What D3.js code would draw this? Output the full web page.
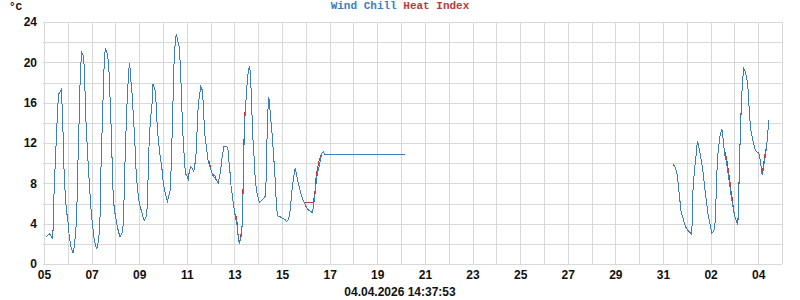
<!DOCTYPE html>
<html>
<head>
<meta charset="utf-8">
<script src="https://cdn.jsdelivr.net/npm/d3@7"></script>
<style>
  body { margin: 0; background: #fff; }
  svg { display: block; }
  .tick-label { font-family: "Liberation Sans Narrow", "Liberation Sans", sans-serif; font-weight: bold; font-size: 12px; fill: #111; }
  .title { font-family: "Liberation Mono", "DejaVu Sans Mono", monospace; font-weight: bold; font-size: 11px; }
</style>
</head>
<body>
<svg id="chart" width="800" height="300"></svg>
<script>
// hours since 05.03.2026 00:00, null value = gap in the record
const hours = [
  2.0, 5.3, 7.1, 8.8, 9.3, 9.8, 10.8, 11.8, 12.8, 14.1, 15.1, 17.4, 18.2, 19.2, 19.9, 20.9, 22.5, 24.2, 25.5, 27.2,
  29.5, 30.9, 32.9, 34.0, 35.0, 36.0, 37.0, 38.0, 40.0, 41.0, 42.1, 43.4, 44.7, 45.7, 47.4, 49.1, 50.7, 53.1, 55.2, 56.5,
  57.2, 58.5, 59.8, 60.8, 61.8, 63.5, 64.8, 65.8, 66.9, 67.9, 68.9, 69.9, 71.6, 73.9, 76.6, 79.4, 80.4, 81.4, 82.7, 83.7,
  85.0, 86.0, 87.0, 88.0, 88.7, 90.5, 91.8, 93.1, 94.5, 96.1, 97.8, 99.8, 101.1, 102.9, 104.2, 105.2, 106.2, 107.6, 108.9, 109.9,
  111.6, 112.6, 113.6, 115.0, 116.7, 118.7, 120.3, 122.3, 124.3, 125.7, 127.1, 128.1, 129.1, 130.1, 131.1, 132.4, 133.4, 134.8, 136.1, 137.4,
  138.5, 139.5, 140.5, 141.5, 142.5, 144.2, 145.5, 146.5, 147.9, 149.5, 151.0, 152.3, 153.6, 154.6, 155.6, 157.0, 158.0, 159.3, 160.3, 161.3,
  162.4, 164.1, 165.4, 166.7, 168.1, 169.4, 170.7, 172.4, 173.7, 175.8, 176.8, 177.8, 178.8, 180.2, 181.5, 184.2, 185.5, 186.6, 187.6, 188.6,
  189.6, 190.9, 192.3, 193.6, 194.9, 195.9, 196.9, 198.4, 199.4, 200.4, 201.4, 202.4, 203.7, 205.0, 206.0, 207.4, 208.4, 209.4, 210.5, 211.8,
  212.8, 214.1, 215.5, 217.1, 219.8, 222.9, 223.9, 224.6, 225.6, 226.6, 227.6, 228.6, 229.9, 231.3, 232.7, 233.7, 234.7, 236.0, 238.0, 240.7,
  243.0, 244.7, 246.4, 247.8, 249.1, 250.4, 251.8, 253.1, 254.4, 255.8, 257.1, 258.9, 260.5, 262.2, 264.2, 266.2, 268.2, 270.6, 271.6, 273.0,
  274.3, 275.6, 277.3, 279.0, 280.3, 281.7, 282.9, 364.3, 500.0,
  634.3, 636.3, 638.0, 639.0, 640.0, 641.0, 642.3, 643.7, 645.7, 647.7, 650.4, 652.4, 653.4, 654.4, 655.8, 657.2, 658.2, 659.2, 660.8, 662.2,
  664.2, 665.9, 667.6, 669.3, 671.3, 673.3, 674.9, 676.1, 677.1, 677.9, 679.1, 680.6, 682.0, 683.4, 684.4, 685.4, 686.7, 687.7, 688.7, 690.1,
  691.5, 692.8, 694.1, 695.8, 697.1, 698.1, 699.5, 700.1, 701.1, 702.1, 703.1, 704.2, 705.6, 706.9, 708.2, 709.6, 710.6, 711.6, 712.6, 713.9,
  715.3, 717.0, 719.0, 720.7, 722.0, 723.0, 724.0, 725.0, 726.0, 727.1, 728.4, 729.4, 730.4, 730.8
];

const windChill = [
  2.65, 3.0, 2.8, 2.5, 3.9, 6.2, 8.7, 11.0, 13.3, 15.9, 16.9, 17.3, 15.8, 13.0, 10.0, 7.8, 5.4, 4.2, 2.7, 1.7,
  1.06, 2.05, 4.4, 9.3, 12.6, 16.9, 19.6, 21.0, 20.6, 18.3, 14.6, 12.0, 9.65, 8.0, 5.4, 3.7, 2.4, 1.46, 2.4, 4.7,
  8.7, 13.0, 17.3, 20.2, 21.4, 20.9, 20.2, 18.6, 15.6, 13.0, 9.3, 6.35, 5.0, 3.7, 2.65, 3.2, 5.35, 9.3, 13.3, 15.9,
  18.4, 19.9, 19.2, 17.6, 17.0, 14.0, 11.6, 8.7, 7.3, 6.0, 5.4, 4.7, 4.3, 4.7, 5.7, 9.65, 12.6, 14.6, 15.9, 17.8,
  17.4, 16.8, 14.6, 12.6, 11.0, 9.65, 8.0, 7.0, 6.2, 6.7, 7.3, 9.3, 12.6, 16.3, 19.9, 22.2, 22.8, 22.2, 21.6, 19.9,
  16.9, 14.0, 12.0, 10.5, 9.0, 8.7, 8.4, 9.15, 9.65, 9.5, 9.15, 10.0, 11.3, 14.0, 15.9, 16.9, 17.6, 17.3, 16.3, 14.3,
  12.6, 11.3, 10.3, 9.8, 9.4, 9.0, 8.7, 8.5, 8.3, 8.0, 8.7, 9.0, 10.0, 11.0, 11.7, 11.7, 11.3, 10.0, 9.0, 7.7,
  7.0, 6.0, 5.0, 4.4, 3.7, 2.55, 2.0, 2.55, 3.05, 5.7, 11.0, 14.3, 16.3, 18.25, 19.2, 19.6, 18.25, 15.6, 12.6, 10.6,
  8.7, 7.3, 6.7, 6.1, 6.35, 6.7, 8.3, 11.6, 14.95, 16.6, 15.6, 14.3, 13.0, 11.0, 9.0, 7.0, 5.35, 4.75, 4.7, 4.5,
  4.4, 4.2, 4.4, 5.0, 6.35, 7.7, 8.7, 9.5, 9.0, 8.3, 7.7, 7.0, 6.5, 6.1, 5.7, 5.4, 5.25, 5.1, 5.7, 6.7,
  8.0, 9.0, 9.65, 10.5, 11.0, 11.1, 10.9, 10.9, null,
  9.9, 9.6, 9.0, 8.3, 7.3, 6.35, 5.2, 4.7, 4.0, 3.5, 3.2, 3.0, 3.9, 7.7, 9.3, 10.6, 11.8, 12.1, 11.3, 10.5,
  9.3, 7.7, 6.35, 5.0, 4.0, 3.05, 3.2, 3.5, 5.0, 8.0, 10.6, 12.0, 13.0, 13.35, 12.6, 11.6, 10.6, 10.3, 9.65, 8.7,
  7.7, 6.7, 6.0, 5.0, 4.5, 4.2, 3.9, 5.7, 9.65, 13.3, 15.9, 18.25, 19.4, 19.1, 18.6, 17.6, 15.9, 14.3, 13.3, 12.6,
  12.0, 11.3, 11.1, 11.0, 10.3, 9.65, 8.8, 9.3, 10.0, 10.6, 11.6, 12.6, 14.0, 14.3
];

const heatIndex = [
  2.65, 3.0, 2.8, 2.5, 4.0, 6.2, 8.7, 11.0, 13.3, 15.9, 16.9, 17.3, 15.8, 13.0, 10.0, 7.8, 5.4, 4.2, 2.7, 1.7,
  1.06, 2.05, 4.4, 9.3, 12.6, 16.9, 19.6, 21.0, 20.6, 18.3, 14.6, 12.0, 9.65, 8.0, 5.4, 3.7, 2.4, 1.46, 2.4, 4.7,
  8.7, 13.0, 17.3, 20.2, 21.4, 20.9, 20.2, 18.6, 15.6, 13.0, 9.3, 6.35, 5.0, 3.7, 2.65, 3.2, 5.35, 9.3, 13.3, 15.9,
  18.4, 19.9, 19.2, 17.6, 17.0, 14.0, 11.6, 8.7, 7.3, 6.0, 5.4, 4.7, 4.3, 4.7, 5.7, 9.65, 12.6, 14.6, 15.9, 17.8,
  17.4, 16.8, 14.6, 12.6, 11.0, 9.65, 8.0, 7.0, 6.2, 6.7, 7.3, 9.3, 12.6, 16.3, 19.9, 22.2, 22.8, 22.2, 21.6, 19.9,
  16.9, 14.0, 12.0, 10.5, 9.0, 8.7, 8.7, 9.15, 9.65, 9.5, 9.15, 10.0, 11.3, 14.0, 15.9, 16.9, 17.6, 17.3, 16.3, 14.3,
  12.6, 11.3, 10.3, 10.1, 9.4, 9.0, 8.9, 8.7, 8.3, 8.0, 8.7, 9.0, 10.0, 11.0, 11.7, 11.7, 11.3, 10.0, 9.0, 7.7,
  7.0, 6.0, 5.0, 4.7, 4.0, 2.55, 2.0, 2.9, 3.05, 6.2, 11.6, 14.8, 16.3, 18.25, 19.2, 19.6, 18.25, 15.6, 12.6, 10.6,
  8.7, 7.3, 6.7, 6.1, 6.35, 6.7, 8.3, 11.6, 14.95, 16.6, 15.6, 14.3, 13.0, 11.0, 9.0, 7.0, 5.35, 4.75, 4.7, 4.5,
  4.4, 4.2, 4.4, 5.0, 6.35, 7.7, 8.7, 9.5, 9.0, 8.3, 7.7, 7.0, 6.5, 6.1, 6.05, 6.05, 6.05, 6.05, 6.2, 7.0,
  8.6, 9.4, 10.2, 10.8, 11.0, 11.1, 10.9, 10.9, null,
  9.9, 9.6, 9.0, 8.3, 7.3, 6.35, 5.2, 4.7, 4.0, 3.5, 3.2, 3.0, 3.9, 7.7, 9.3, 10.6, 11.8, 12.1, 11.3, 10.5,
  9.3, 7.7, 6.35, 5.0, 4.0, 3.05, 3.2, 3.5, 5.0, 8.0, 10.6, 12.0, 13.0, 13.35, 12.6, 11.6, 11.0, 10.7, 10.1, 9.2,
  8.2, 7.1, 6.3, 5.0, 4.5, 4.2, 3.9, 6.1, 9.65, 13.6, 15.9, 18.25, 19.4, 19.1, 18.6, 17.6, 15.9, 14.3, 13.3, 12.6,
  12.0, 11.3, 11.1, 11.0, 10.3, 9.65, 9.2, 9.6, 10.3, 11.0, 11.6, 12.6, 14.0, 14.3
];

const xTickDays = ["2026-03-05", "2026-03-07", "2026-03-09", "2026-03-11", "2026-03-13", "2026-03-15", "2026-03-17",
  "2026-03-19", "2026-03-21", "2026-03-23", "2026-03-25", "2026-03-27", "2026-03-29", "2026-03-31", "2026-04-02", "2026-04-04"];
const yTicks = [0, 4, 8, 12, 16, 20, 24];
const yGrid = [0, 2, 4, 6, 8, 10, 12, 14, 16, 18, 20, 22, 24];

const startDate = new Date(Date.UTC(2026, 2, 5));
const endDate = new Date(Date.UTC(2026, 3, 5));
const stamp = "04.04.2026 14:37:53";

const blue = "#3a80c0", red = "#c0393b", gridColor = "#d9d9d9";
const margin = { top: 22, right: 18, bottom: 36, left: 44 };
const width = 800, height = 300;

const svg = d3.select("#chart");

const x = d3.scaleUtc().domain([startDate, endDate]).range([margin.left, width - margin.right]);
const y = d3.scaleLinear().domain([0, 24]).range([height - margin.bottom, margin.top]);

const toDate = h => new Date(startDate.getTime() + h * 3600e3);
const parseDay = d3.utcParse("%Y-%m-%d");

// grid
const grid = svg.append("g");
grid.selectAll(".vg")
  .data(d3.utcDay.range(startDate, d3.utcDay.offset(endDate, 1)))
  .enter().append("line")
  .attr("x1", d => Math.round(x(d)) + 0.5).attr("x2", d => Math.round(x(d)) + 0.5)
  .attr("y1", y(24)).attr("y2", y(0))
  .attr("stroke", gridColor);
grid.selectAll(".hg")
  .data(yGrid)
  .enter().append("line")
  .attr("x1", margin.left - 1).attr("x2", width - margin.right)
  .attr("y1", d => Math.round(y(d)) + 0.5).attr("y2", d => Math.round(y(d)) + 0.5)
  .attr("stroke", gridColor);

// axes
const xAxis = d3.axisBottom(x)
  .tickValues(xTickDays.map(parseDay))
  .tickFormat(d3.utcFormat("%d"))
  .tickSize(0).tickPadding(6);
svg.append("g")
  .attr("transform", `translate(0,${y(0)})`)
  .call(xAxis)
  .call(g => g.select(".domain").remove())
  .selectAll("text").attr("class", "tick-label");

const yAxis = d3.axisLeft(y).tickValues(yTicks).tickSize(0).tickPadding(7);
svg.append("g")
  .attr("transform", `translate(${margin.left},0)`)
  .call(yAxis)
  .call(g => g.select(".domain").remove())
  .selectAll("text").attr("class", "tick-label");

// series
const rows = hours.map((h, i) => ({ t: toDate(h), wc: windChill[i], hi: heatIndex[i] }));
const line = key => d3.line()
  .defined(d => d[key] != null)
  .x(d => x(d.t))
  .y(d => y(d[key]));

svg.append("path").datum(rows)
  .attr("d", line("hi")).attr("fill", "none")
  .attr("stroke", red).attr("stroke-width", 1)
  .attr("shape-rendering", "crispEdges");
svg.append("path").datum(rows)
  .attr("d", line("wc")).attr("fill", "none")
  .attr("stroke", blue).attr("stroke-width", 1)
  .attr("shape-rendering", "crispEdges");

// texts
svg.append("text").attr("class", "title")
  .attr("x", 9).attr("y", 10).attr("fill", "#111").text("°C");

const title = svg.append("text").attr("class", "title")
  .attr("x", 400).attr("y", 9).attr("text-anchor", "middle");
title.append("tspan").attr("fill", blue).text("Wind Chill");
title.append("tspan").attr("fill", red).text(" Heat Index");

svg.append("text").attr("class", "tick-label")
  .attr("x", 400).attr("y", 296).attr("text-anchor", "middle")
  .text(stamp);
</script>
</body>
</html>
